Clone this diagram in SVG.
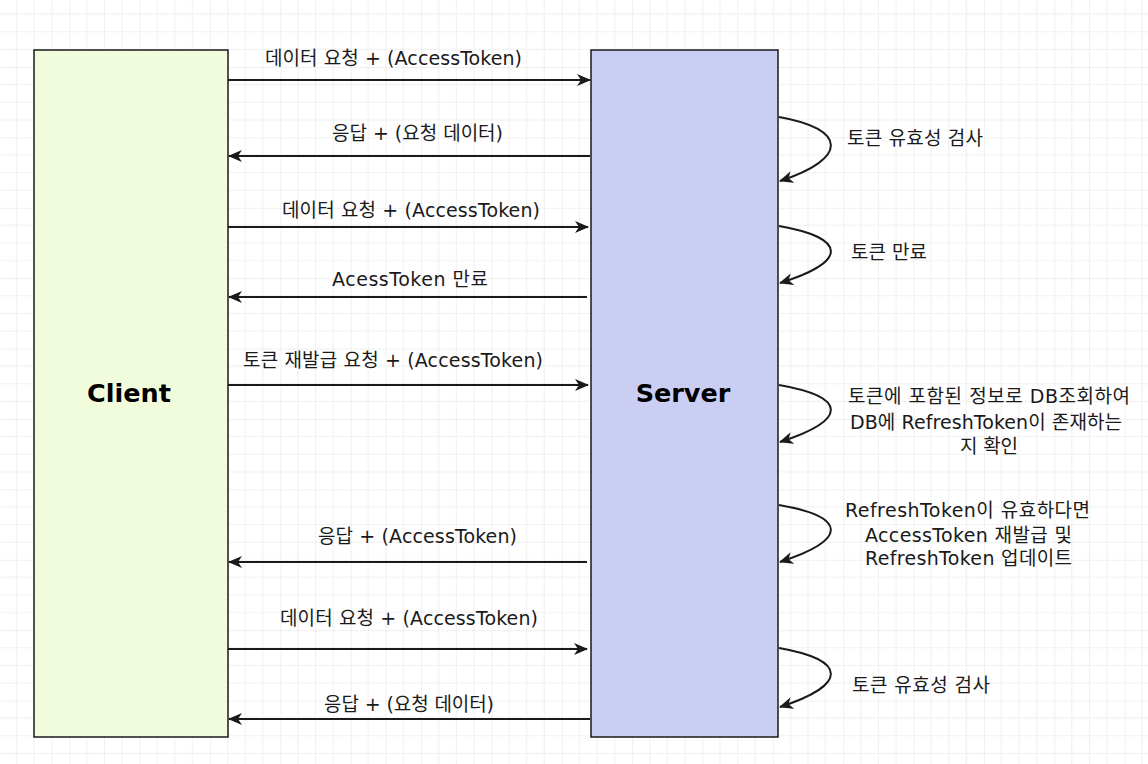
<svg xmlns="http://www.w3.org/2000/svg" width="1148" height="764" viewBox="0 0 1148 764">
  <defs>
    <pattern id="grid" width="70.35" height="70.4" patternUnits="userSpaceOnUse" patternTransform="translate(-1,-3.4)">
      <path d="M17.59 0V70.4M35.18 0V70.4M52.76 0V70.4M0 17.6H70.35M0 35.2H70.35M0 52.8H70.35" fill="none" stroke="#f0f0f0" stroke-width="1"/>
      <path d="M0 0V70.4M0 0H70.35" fill="none" stroke="#e1e1e1" stroke-width="1"/>
    </pattern>
    <marker id="arr" viewBox="0 0 14 13" refX="13" refY="6.5" markerWidth="14" markerHeight="13" markerUnits="userSpaceOnUse" orient="auto">
      <path d="M0 0.5L14 6.5L0 12.5L4 6.5Z" fill="#1a1a1a"/>
    </marker>
    <style>
      .box{stroke:#1a1a1a;stroke-width:1.5}
      .edge{fill:none;stroke:#1a1a1a;stroke-width:2;marker-end:url(#arr)}
      .lbl{font-family:"DejaVu Sans","Noto Sans CJK KR",sans-serif;font-size:19px;fill:#1a1a1a}
      .mid{text-anchor:middle}
      .title{font-family:"DejaVu Sans","Liberation Sans",sans-serif;font-size:25.5px;font-weight:bold;fill:#000;text-anchor:middle}
    </style>
  </defs>
  <rect width="1148" height="764" fill="#ffffff"/>
  <rect width="1148" height="764" fill="url(#grid)"/>

  <g id="client">
    <rect class="box" x="34" y="50" width="194" height="687" fill="#f1fcdc"/>
    <text class="title" x="129" y="402">Client</text>
  </g>
  <g id="server">
    <rect class="box" x="591" y="50" width="187" height="687" fill="#cbcef3"/>
    <text class="title" x="683" y="402">Server</text>
  </g>

  <g id="connectors">
    <path class="edge" d="M228 80H590"/>
    <path class="edge" d="M590 156H229"/>
    <path class="edge" d="M228 227H588"/>
    <path class="edge" d="M587 297H229"/>
    <path class="edge" d="M228 385H588"/>
    <path class="edge" d="M587 562H229"/>
    <path class="edge" d="M228 649H587"/>
    <path class="edge" d="M590 719H229"/>

    <path class="edge" d="M779 117C848 129 848 159 780 181"/>
    <path class="edge" d="M779 226C848 238 848 262 780 283"/>
    <path class="edge" d="M779 385C848 397 848 420 780 442"/>
    <path class="edge" d="M779 505C848 517 848 540 780 562"/>
    <path class="edge" d="M779 648C848 660 848 685 780 707"/>
  </g>

  <g id="labels">
    <text class="lbl mid" x="393.5" y="65" textLength="257" lengthAdjust="spacing">데이터 요청 + (AccessToken)</text>
    <text class="lbl mid" x="417.5" y="140" textLength="171" lengthAdjust="spacing">응답 + (요청 데이터)</text>
    <text class="lbl mid" x="411" y="217" textLength="258" lengthAdjust="spacing">데이터 요청 + (AccessToken)</text>
    <text class="lbl mid" x="410" y="286" textLength="156" lengthAdjust="spacing">AcessToken 만료</text>
    <text class="lbl mid" x="393" y="367" textLength="300" lengthAdjust="spacing">토큰 재발급 요청 + (AccessToken)</text>
    <text class="lbl mid" x="417.5" y="543" textLength="199" lengthAdjust="spacing">응답 + (AccessToken)</text>
    <text class="lbl mid" x="409" y="625" textLength="258" lengthAdjust="spacing">데이터 요청 + (AccessToken)</text>
    <text class="lbl mid" x="409" y="711" textLength="170" lengthAdjust="spacing">응답 + (요청 데이터)</text>

    <text class="lbl" x="847" y="145" textLength="136" lengthAdjust="spacing">토큰 유효성 검사</text>
    <text class="lbl" x="851" y="259" textLength="76" lengthAdjust="spacing">토큰 만료</text>
    <text class="lbl mid" x="989" y="403" textLength="282" lengthAdjust="spacing">토큰에 포함된 정보로 DB조회하여</text>
    <text class="lbl mid" x="986" y="429" textLength="272" lengthAdjust="spacing">DB에 RefreshToken이 존재하는</text>
    <text class="lbl mid" x="989" y="453" textLength="58" lengthAdjust="spacing">지 확인</text>
    <text class="lbl mid" x="967.5" y="517" textLength="245" lengthAdjust="spacing">RefreshToken이 유효하다면</text>
    <text class="lbl mid" x="968.5" y="542" textLength="207" lengthAdjust="spacing">AccessToken 재발급 및</text>
    <text class="lbl mid" x="968.5" y="565" textLength="207" lengthAdjust="spacing">RefreshToken 업데이트</text>
    <text class="lbl" x="852" y="692" textLength="138" lengthAdjust="spacing">토큰 유효성 검사</text>
  </g>
</svg>
